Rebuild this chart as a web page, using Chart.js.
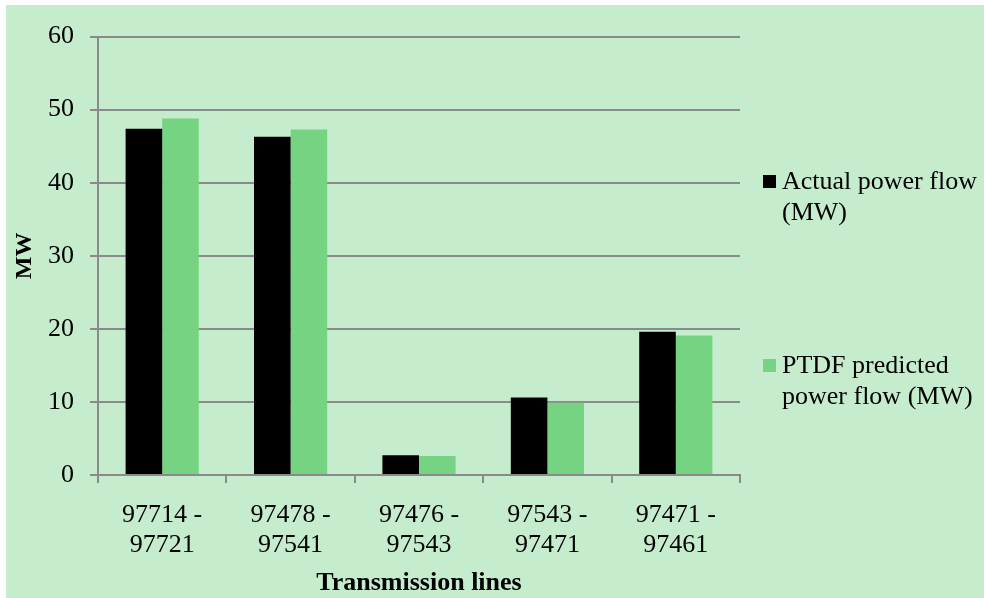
<!DOCTYPE html>
<html>
<head>
<meta charset="utf-8">
<script src="https://cdn.jsdelivr.net/npm/chart.js@4"></script>
<style>
  body { margin: 0; background: #ffffff; }
  #chartbox { position: absolute; left: 6px; top: 5px; width: 978px; height: 593px; background: #c6ecce; }
</style>
</head>
<body>
<div id="chartbox"><canvas id="bar-chart"></canvas></div>
<script>
// line names, two lines each
var lines = [['97714 -', '97721'], ['97478 -', '97541'], ['97476 -', '97543'], ['97543 -', '97471'], ['97471 -', '97461']];
// power flow per line (MW)
var actualFlow = [47.4, 46.3, 2.7, 10.6, 19.6];
var ptdfFlow = [48.8, 47.3, 2.6, 9.9, 19.1];
var seriesNames = ['Actual power flow (MW)', 'PTDF predicted power flow (MW)'];
var legendLines = [['Actual power flow', '(MW)'], ['PTDF predicted', 'power flow (MW)']];
var yTicks = [0, 10, 20, 30, 40, 50, 60];

var serif = "'Liberation Serif', 'Times New Roman', serif";
var gridColor = '#8a8a8a';

// legend drawn by hand so the labels can wrap onto two lines
var sideLegend = {
    id: 'sideLegend',
    afterDraw: function (chart) {
        var ctx = chart.ctx;
        var rows = [176, 360];
        ctx.save();
        ctx.font = '26px ' + serif;
        ctx.textBaseline = 'middle';
        ctx.textAlign = 'left';
        chart.data.datasets.forEach(function (ds, i) {
            var y = rows[i];
            ctx.fillStyle = ds.backgroundColor;
            ctx.fillRect(757, y - 6, 13, 13);
            ctx.fillStyle = '#000';
            legendLines[i].forEach(function (t, k) {
                ctx.fillText(t, 776, y + 1 + k * 31);
            });
        });
        ctx.restore();
    }
};

var myChart = new Chart(document.getElementById('bar-chart'), {
    type: 'bar',
    data: {
        labels: lines,
        datasets: [{
            label: seriesNames[0],
            data: actualFlow,
            backgroundColor: '#000000',
            categoryPercentage: 0.57,
            barPercentage: 1
        }, {
            label: seriesNames[1],
            data: ptdfFlow,
            backgroundColor: '#76d382',
            categoryPercentage: 0.57,
            barPercentage: 1
        }]
    },
    options: {
        responsive: true,
        maintainAspectRatio: false,
        animation: false,
        layout: { padding: { left: 0, top: 25, right: 244, bottom: 0 } },
        plugins: {
            legend: { display: false },
            tooltip: { enabled: false }
        },
        scales: {
            x: {
                grid: { drawOnChartArea: false, drawTicks: true, tickLength: 8, color: gridColor, lineWidth: 2, offset: true },
                border: { color: gridColor, width: 2 },
                ticks: { color: '#000', padding: 17, maxRotation: 0, font: { family: serif, size: 26, lineHeight: 1.15 } },
                title: {
                    display: true,
                    text: 'Transmission lines',
                    color: '#000',
                    padding: { top: 0, bottom: 0 },
                    font: { family: serif, size: 26, weight: 'bold', lineHeight: 1.1 }
                },
                afterFit: function (scale) { scale.height = 123; }
            },
            y: {
                min: 0,
                max: 60,
                afterBuildTicks: function (scale) {
                    scale.ticks = yTicks.map(function (v) { return { value: v }; });
                },
                grid: { color: gridColor, lineWidth: 2, tickLength: 8 },
                border: { color: gridColor, width: 2 },
                ticks: { color: '#000', padding: 16, font: { family: serif, size: 26 } },
                title: {
                    display: true,
                    text: 'MW',
                    color: '#000',
                    padding: { top: 4, bottom: 0 },
                    font: { family: serif, size: 24, weight: 'bold', lineHeight: 1.2 }
                },
                afterFit: function (scale) { scale.width = 92; }
            }
        }
    },
    plugins: [sideLegend]
});
</script>
</body>
</html>
